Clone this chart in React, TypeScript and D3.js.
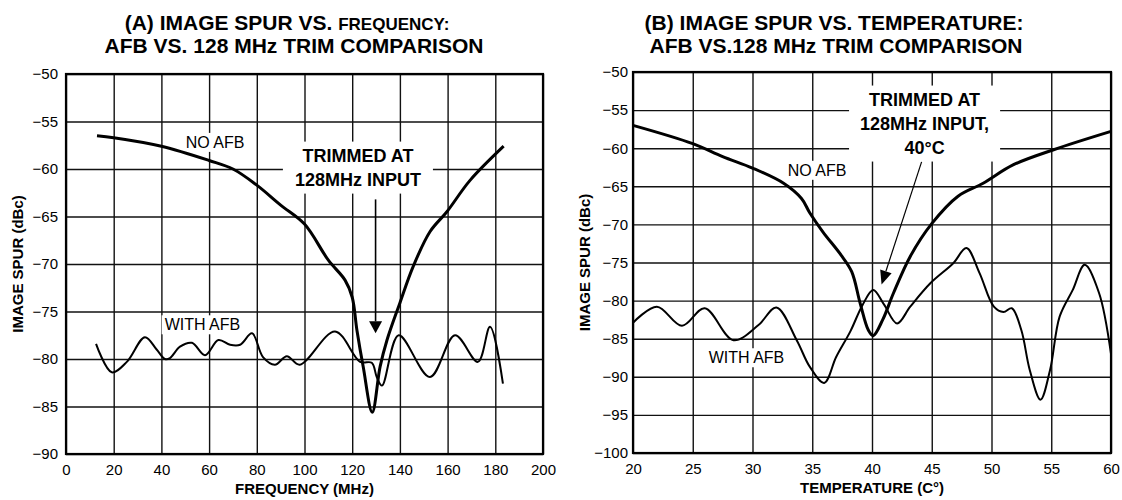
import { useEffect, useRef } from "react";
import * as d3 from "d3";

// ---- panel A: image spur vs frequency ----
const freqTicks = [0, 20, 40, 60, 80, 100, 120, 140, 160, 180, 200];
const spurTicksA = [-90, -85, -80, -75, -70, -65, -60, -55, -50];

const freqNoAfb = [13, 20, 40, 60, 70, 80, 90, 100, 110, 117, 120, 122, 124.6, 128.4, 131.7, 134.6, 140, 145.5, 152.6, 159.7, 169.4, 183.5];
const spurNoAfbA = [-56.5, -56.7, -57.6, -59.1, -60.0, -61.7, -63.8, -65.8, -69.6, -71.7, -73.5, -77, -80.8, -85.6, -80.8, -78, -74.1, -70.3, -66.6, -64.5, -61.2, -57.6];

const freqWithAfb = [12.6, 19.2, 25.5, 33.1, 38, 41.5, 43.6, 47.8, 52.8, 58.3, 63.9, 68.8, 73, 78, 82.6, 87.6, 92.6, 98, 112.8, 123.3, 128.2, 130.3, 132.5, 139.5, 152.6, 163.1, 172.7, 177.8, 183.2];
const spurWithAfbA = [-78.4, -81.4, -80.3, -77.7, -79, -80, -79.9, -78.7, -78.3, -79.6, -78, -78.5, -78.5, -77.3, -79.8, -80.6, -79.7, -80.6, -77.1, -80.3, -80.4, -81.9, -82.8, -77.5, -81.9, -77.5, -80.3, -76.6, -82.6];

// ---- panel B: image spur vs temperature ----
const tempTicks = [20, 25, 30, 35, 40, 45, 50, 55, 60];
const spurTicksB = [-100, -95, -90, -85, -80, -75, -70, -65, -60, -55, -50];

const tempNoAfb = [20, 25, 27.5, 30, 32.6, 34.1, 34.8, 35.9, 37.4, 38.3, 39, 39.7, 40.1, 40.9, 41.8, 43.2, 45, 47.2, 49.3, 51.8, 55.2, 60];
const spurNoAfbB = [-57, -59.4, -61.1, -62.6, -64.6, -66.6, -68.5, -71.0, -74.0, -76.2, -80.3, -83.9, -84.6, -82.5, -79, -74.2, -69.9, -66.3, -64.6, -62.2, -60.2, -57.8];

const tempWithAfb = [20, 22, 24.1, 26, 28.4, 30.5, 32, 33.7, 34.8, 36, 37, 38.2, 39.2, 40.1, 41, 42.1, 43.2, 44.9, 46.8, 47.9, 49, 50.2, 51, 51.7, 52.5, 53.2, 54.1, 54.9, 55.7, 56.8, 57.8, 59, 60];
const spurWithAfbB = [-82.9, -80.8, -83.3, -81, -85.2, -83.2, -80.9, -85.2, -88.7, -90.8, -87.4, -84, -80.6, -78.6, -80.5, -83, -80.8, -77.7, -75.1, -73.1, -76.4, -80.8, -81.5, -81, -83.9, -89.1, -93, -89.1, -82.1, -78.6, -75.3, -79, -87];

const FONT = "'Liberation Sans', Arial, Helvetica, sans-serif";
const minus = (v: number) => String(v).replace("-", "\u2212");

type Panel = {
  box: { left: number; right: number; top: number; bottom: number };
  xDomain: [number, number];
  yDomain: [number, number];
  xTicks: number[];
  yTicks: number[];
  yPad: number;
  noAfb: { x: number[]; y: number[] };
  withAfb: { x: number[]; y: number[] };
  title: { x: number; y: number; parts: [string, number][] }[];
  xLabel: string;
  yLabelX: number;
  labels: { text: string; x: number; y: number }[];
  trim: { lines: string[]; x: number; y: number; padX: number; padY: number };
  arrow: { from: [number, number]; to: [number, number]; width: number; head: [number, number] };
};

function drawPanel(svg: d3.Selection<SVGSVGElement, unknown, null, undefined>, p: Panel) {
  const { left, right, top, bottom } = p.box;
  const iw = right - left;
  const ih = bottom - top;
  const x = d3.scaleLinear().domain(p.xDomain).range([0, iw]);
  const y = d3.scaleLinear().domain(p.yDomain).range([ih, 0]);

  // titles (drawn in page coords)
  for (const t of p.title) {
    const txt = svg.append("text")
      .attr("x", t.x).attr("y", t.y)
      .attr("text-anchor", "middle")
      .attr("font-family", FONT)
      .attr("font-weight", 700);
    for (const [s, size] of t.parts) txt.append("tspan").attr("font-size", size).text(s);
  }

  const g = svg.append("g").attr("transform", `translate(${left},${top})`);

  // grid + ticks
  const ya = g.append("g").call(
    d3.axisLeft(y).tickValues(p.yTicks).tickSize(-iw).tickPadding(p.yPad).tickFormat((d) => minus(+d))
  );
  const xa = g.append("g").attr("transform", `translate(0,${ih})`).call(
    d3.axisBottom(x).tickValues(p.xTicks).tickSize(-ih).tickPadding(10).tickFormat((d) => String(d))
  );
  for (const a of [ya, xa]) {
    a.select(".domain").remove();
    a.attr("font-family", FONT).attr("font-size", 15);
    a.selectAll("line").attr("stroke", "#111").attr("stroke-width", 1.4);
    a.selectAll("text").attr("fill", "#000");
  }

  // frame
  g.append("rect").attr("width", iw).attr("height", ih)
    .attr("fill", "none").attr("stroke", "#000").attr("stroke-width", 2.2);

  // axis titles
  g.append("text")
    .attr("x", iw / 2).attr("y", ih + 40)
    .attr("text-anchor", "middle")
    .attr("font-family", FONT).attr("font-size", 15).attr("font-weight", 700)
    .text(p.xLabel);
  g.append("text")
    .attr("transform", `translate(${p.yLabelX - left},${ih / 2}) rotate(-90)`)
    .attr("text-anchor", "middle")
    .attr("font-family", FONT).attr("font-size", 15).attr("font-weight", 700)
    .text("IMAGE SPUR (dBc)");

  // text labels with white backing
  const label = (text: string, cx: number, cy: number) => {
    const lg = g.append("g");
    const r = lg.append("rect").attr("fill", "#fff");
    const t = lg.append("text")
      .attr("x", x(cx)).attr("y", y(cy))
      .attr("text-anchor", "middle").attr("dominant-baseline", "central")
      .attr("font-family", FONT).attr("font-size", 16)
      .text(text);
    const bb = (t.node() as SVGTextElement).getBBox();
    r.attr("x", bb.x - 3).attr("y", bb.y - 1).attr("width", bb.width + 6).attr("height", bb.height + 2);
  };

  const line = d3.line<[number, number]>()
    .x((d) => x(d[0]))
    .y((d) => y(d[1]))
    .curve(d3.curveCatmullRom.alpha(0.5));

  const pairs = (xs: number[], ys: number[]) => xs.map((v, i) => [v, ys[i]] as [number, number]);

  for (const l of p.labels) label(l.text, l.x, l.y);

  g.append("path").attr("d", line(pairs(p.withAfb.x, p.withAfb.y)))
    .attr("fill", "none").attr("stroke", "#000").attr("stroke-width", 2).attr("stroke-linejoin", "round");
  g.append("path").attr("d", line(pairs(p.noAfb.x, p.noAfb.y)))
    .attr("fill", "none").attr("stroke", "#000").attr("stroke-width", 3).attr("stroke-linejoin", "round");

  // trim annotation box
  const tb = g.append("g");
  const tr = tb.append("rect").attr("fill", "#fff");
  const tt = tb.append("text")
    .attr("text-anchor", "middle")
    .attr("font-family", FONT).attr("font-size", 18).attr("font-weight", 700);
  const n = p.trim.lines.length;
  p.trim.lines.forEach((s, i) => {
    tt.append("tspan")
      .attr("x", x(p.trim.x))
      .attr("y", y(p.trim.y) + (i - (n - 1) / 2) * 24 + 6.5)
      .text(s);
  });
  const bb = (tt.node() as SVGTextElement).getBBox();
  tr.attr("x", bb.x - p.trim.padX).attr("y", bb.y - p.trim.padY)
    .attr("width", bb.width + 2 * p.trim.padX).attr("height", bb.height + 2 * p.trim.padY);

  // arrow
  const [x0, y0] = [x(p.arrow.from[0]), y(p.arrow.from[1])];
  const [x1, y1] = [x(p.arrow.to[0]), y(p.arrow.to[1])];
  const ang = Math.atan2(y1 - y0, x1 - x0);
  const [hl, hw] = p.arrow.head;
  const bx = x1 - hl * Math.cos(ang);
  const by = y1 - hl * Math.sin(ang);
  g.append("line")
    .attr("x1", x0).attr("y1", y0).attr("x2", bx).attr("y2", by)
    .attr("stroke", "#000").attr("stroke-width", p.arrow.width);
  const nx = -Math.sin(ang) * hw / 2;
  const ny = Math.cos(ang) * hw / 2;
  g.append("path")
    .attr("d", `M${x1},${y1}L${bx + nx},${by + ny}L${bx - nx},${by - ny}Z`)
    .attr("fill", "#000");
}

const panelA: Panel = {
  box: { left: 66, right: 543, top: 74, bottom: 454 },
  xDomain: [0, 200],
  yDomain: [-90, -50],
  xTicks: freqTicks,
  yTicks: spurTicksA,
  yPad: 8,
  noAfb: { x: freqNoAfb, y: spurNoAfbA },
  withAfb: { x: freqWithAfb, y: spurWithAfbA },
  title: [
    { x: 287, y: 30, parts: [["(A) IMAGE SPUR VS. ", 21], ["FREQUENCY:", 17]] },
    { x: 294, y: 53, parts: [["AFB VS. 128 MHz TRIM COMPARISON", 21]] },
  ],
  xLabel: "FREQUENCY (MHz)",
  yLabelX: 23,
  labels: [
    { text: "NO AFB", x: 62.5, y: -57.2 },
    { text: "WITH AFB", x: 57.2, y: -76.4 },
  ],
  trim: { lines: ["TRIMMED AT", "128MHz INPUT"], x: 122.4, y: -59.8, padX: 12, padY: 4 },
  arrow: { from: [129.8, -63.2], to: [129.8, -77.3], width: 1.6, head: [12, 13] },
};

const panelB: Panel = {
  box: { left: 633, right: 1111, top: 72, bottom: 453 },
  xDomain: [20, 60],
  yDomain: [-100, -50],
  xTicks: tempTicks,
  yTicks: spurTicksB,
  yPad: 5,
  noAfb: { x: tempNoAfb, y: spurNoAfbB },
  withAfb: { x: tempWithAfb, y: spurWithAfbB },
  title: [
    { x: 834, y: 30, parts: [["(B) IMAGE SPUR VS. TEMPERATURE:", 21]] },
    { x: 836, y: 53, parts: [["AFB VS.128 MHz TRIM COMPARISON", 21]] },
  ],
  xLabel: "TEMPERATURE (C\u00b0)",
  yLabelX: 590,
  labels: [
    { text: "NO AFB", x: 35.4, y: -62.9 },
    { text: "WITH AFB", x: 29.5, y: -87.5 },
  ],
  trim: { lines: ["TRIMMED AT", "128MHz INPUT,", "40\u00b0C"], x: 44.4, y: -56.7, padX: 11, padY: 4 },
  arrow: { from: [44.15, -61.8], to: [40.8, -77.9], width: 1.2, head: [14, 12] },
};

export default function App() {
  const svgRef = useRef<SVGSVGElement | null>(null);

  useEffect(() => {
    if (!svgRef.current) return;
    const svg = d3.select(svgRef.current);
    svg.selectAll("*").remove();
    svg.append("rect").attr("width", 1122).attr("height", 500).attr("fill", "#fff");
    drawPanel(svg, panelA);
    drawPanel(svg, panelB);
  }, []);

  return (
    <svg
      ref={svgRef}
      width={1122}
      height={500}
      style={{ position: "absolute", left: 0, top: 0, display: "block" }}
    />
  );
}
